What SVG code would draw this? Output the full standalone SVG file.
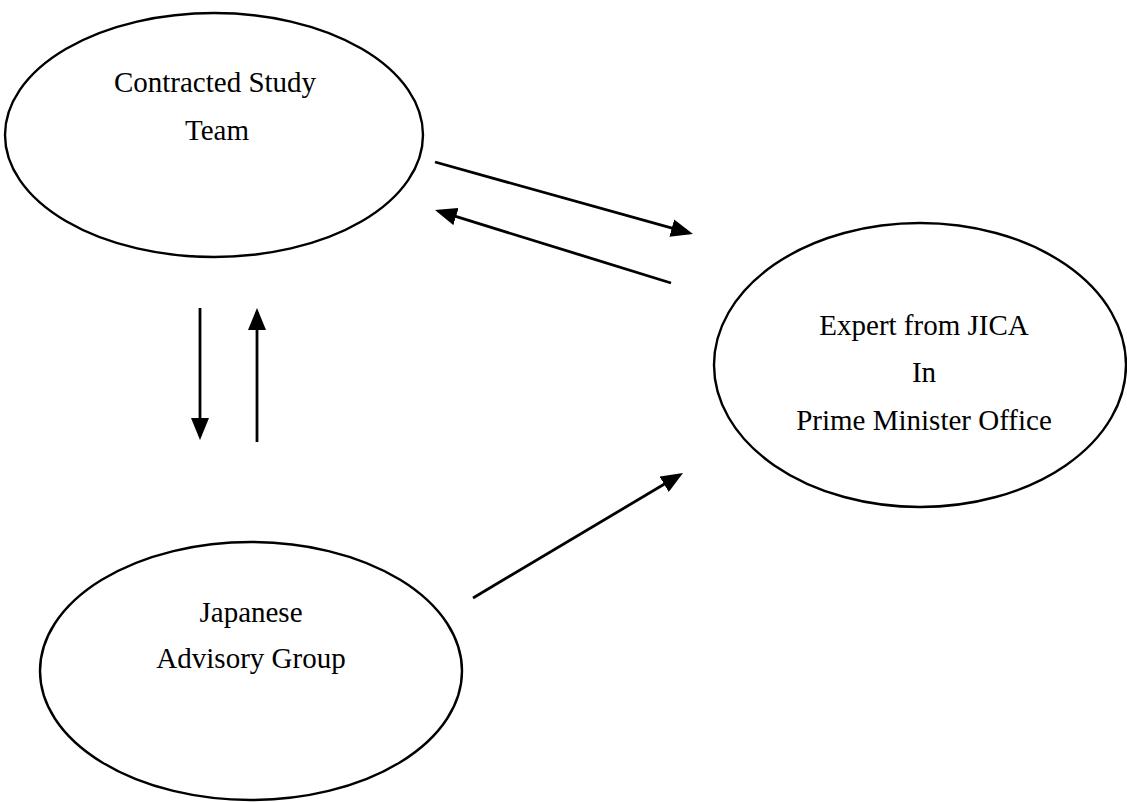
<svg xmlns="http://www.w3.org/2000/svg" width="1127" height="802" viewBox="0 0 1127 802">
  <style>
    .node { fill: #ffffff; stroke: #000000; stroke-width: 2.4; }
    .label { font-family: "Liberation Serif", "Times New Roman", serif; font-size: 29px; fill: #000000; text-anchor: middle; }
    .link { stroke: #000000; stroke-width: 2.8; fill: none; marker-end: url(#head); }
  </style>
  <defs>
    <marker id="head" markerUnits="userSpaceOnUse" markerWidth="22" markerHeight="18" refX="18" refY="9" orient="auto" viewBox="0 0 22 18">
      <path d="M0,0 L22,9 L0,18 z" fill="#000000"/>
    </marker>
  </defs>
  <rect width="1127" height="802" fill="#ffffff"/>

  <g id="study-team">
    <ellipse class="node" cx="214" cy="135" rx="209" ry="122"/>
    <text class="label" x="215" y="92">Contracted Study</text>
    <text class="label" x="217" y="140">Team</text>
  </g>

  <g id="jica-expert">
    <ellipse class="node" cx="920" cy="365" rx="206" ry="142"/>
    <text class="label" x="924" y="335">Expert from JICA</text>
    <text class="label" x="924" y="382">In</text>
    <text class="label" x="924" y="430">Prime Minister Office</text>
  </g>

  <g id="advisory-group">
    <ellipse class="node" cx="251" cy="671" rx="211" ry="129"/>
    <text class="label" x="251" y="622">Japanese</text>
    <text class="label" x="251" y="668">Advisory Group</text>
  </g>

  <g id="connectors">
    <line class="link" x1="435" y1="162" x2="689.1" y2="232.9"/>
    <line class="link" x1="671" y1="283" x2="438.8" y2="211.2"/>
    <line class="link" x1="200" y1="308" x2="200" y2="436"/>
    <line class="link" x1="257" y1="442" x2="257" y2="312"/>
    <line class="link" x1="473" y1="598" x2="679.6" y2="475"/>
  </g>
</svg>
